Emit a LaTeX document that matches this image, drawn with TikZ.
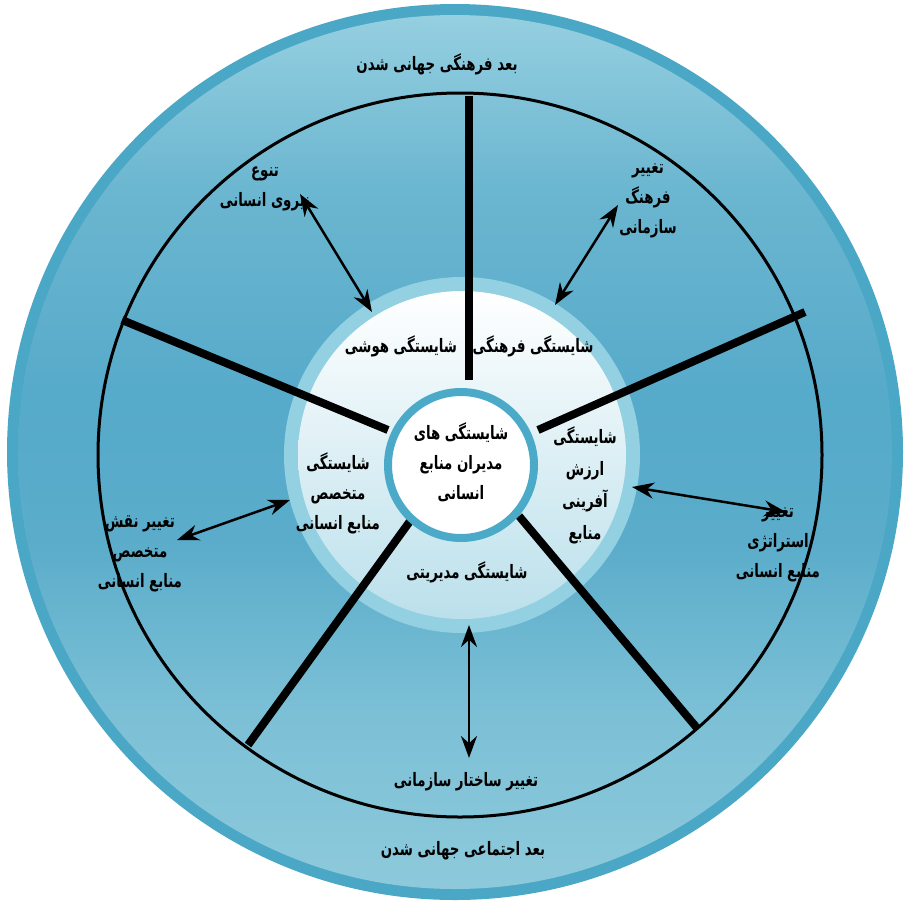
\documentclass[tikz,border=0pt]{standalone}
\usepackage{fontspec}
\usepackage{tikz}
\usetikzlibrary{arrows.meta,calc}
\TeXXeTstate=1
\newfontfamily\farsi[Script=Arabic, FakeStretch=0.72]{DejaVu Sans}
\newcommand{\fa}[1]{\beginR #1\endR}
\definecolor{aroazul}{HTML}{4AA7C5}
\definecolor{cimaazul}{HTML}{95CFE0}
\definecolor{meioazul}{HTML}{56AACA}
\definecolor{baixoazul}{HTML}{8DC9DB}
\definecolor{azulA}{HTML}{6BB6D0}
\definecolor{azulB}{HTML}{5AACCA}
\definecolor{azulC}{HTML}{7CC0D6}
\definecolor{faixaazul}{HTML}{93D0E1}
\definecolor{claroazul}{HTML}{BBE0EB}
\definecolor{centroazul}{HTML}{4BAAC8}
\pgfdeclareverticalshading{discoazul}{100bp}{%
  color(0bp)=(baixoazul); color(25bp)=(baixoazul); color(35bp)=(azulC);
  color(45bp)=(azulB); color(53bp)=(meioazul); color(65bp)=(azulA);
  color(75bp)=(cimaazul); color(100bp)=(cimaazul)}

\begin{document}
\begin{tikzpicture}[
      x=1pt, y=-1pt,
      texto/.style={font=\farsi\bfseries\fontsize{18.5}{30}\selectfont, align=center, inner sep=1pt},
      raio/.style={line width=8pt, black},
      seta/.style={{Stealth[length=22pt,width=16pt]}-{Stealth[length=22pt,width=16pt]}, line width=2.5pt}
  ]
      \useasboundingbox (0,0) rectangle (910,903);

      % Discos
      \fill[aroazul] (455,452) circle (448);
      \shade[shading=discoazul] (455,452) circle (437);
      \draw[line width=3pt] (460,455) circle (362);
      \fill[faixaazul] (462,455) circle (178);
      \shade[top color=white, bottom color=claroazul] (462,455) circle (164);

      % Raios
      \draw[raio] (469,380) -- (469,96);
      \draw[raio] (538,430) -- (805,312);
      \draw[raio] (519,516) -- (697,728);
      \draw[raio] (413,517) -- (248,745);
      \draw[raio] (388,430) -- (122,320);

      % Centro
      \node[circle, draw=centroazul, line width=8pt, fill=white, minimum size=146pt] (cen) at (461,465) {};

      % Textos
      \node[texto] (bfar) at (437,64) {\fa{بعد فرهنگی جهانی شدن}};
      \node[texto] (tnv) at (265,189) {\fa{تنوع}\\\fa{نیروی انسانی}};
      \node[texto] (tfs) at (648,201) {\fa{تغییر}\\\fa{فرهنگ}\\\fa{سازمانی}};
      \node[texto] (shosh) at (401,346) {\fa{شایستگی هوشی}};
      \node[texto] (sfar) at (533,346) {\fa{شایستگی فرهنگی}};
      \node[texto] (scen) at (461,462) {\fa{شایستگی های}\\\fa{مدیران منابع}\\\fa{انسانی}};
      \node[texto] (smot) at (338,493) {\fa{شایستگی}\\\fa{متخصص}\\\fa{منابع انسانی}};
      \node[texto, font=\farsi\bfseries\fontsize{18.5}{32}\selectfont] (sarz) at (585,485) {\fa{شایستگی}\\\fa{ارزش}\\\fa{آفرینی}\\\fa{منابع}};
      \node[texto] (smod) at (467,572) {\fa{شایستگی مدیریتی}};
      \node[texto] (tst) at (778,545) {\fa{تغییر}\\\fa{استراتژی}\\\fa{منابع انسانی}};
      \node[texto] (tnq) at (140,554) {\fa{تغییر نقش}\\\fa{متخصص}\\\fa{منابع انسانی}};
      \node[texto] (tsa) at (466,782) {\fa{تغییر ساختار سازمانی}};
      \node[texto] (bej) at (463,851) {\fa{بعد اجتماعی جهانی شدن}};

      % Pontas das setas
      \coordinate (hoshA) at (372,312);
      \coordinate (tnvB) at (300,194);
      \coordinate (farA) at (555,305);
      \coordinate (tfsB) at (618,205);
      \coordinate (arzA) at (632,487);
      \coordinate (tstB) at (786,512);
      \coordinate (motA) at (290,500);
      \coordinate (tnqB) at (177,540);
      \coordinate (modA) at (469,625);
      \coordinate (tsaB) at (469,758);

      % Setas
      \draw[seta] (hoshA) -- (tnvB);
      \draw[seta] (farA) -- (tfsB);
      \draw[seta] (arzA) -- (tstB);
      \draw[seta] (motA) -- (tnqB);
      \draw[seta] (modA) -- (tsaB);
  \end{tikzpicture}
\end{document}
